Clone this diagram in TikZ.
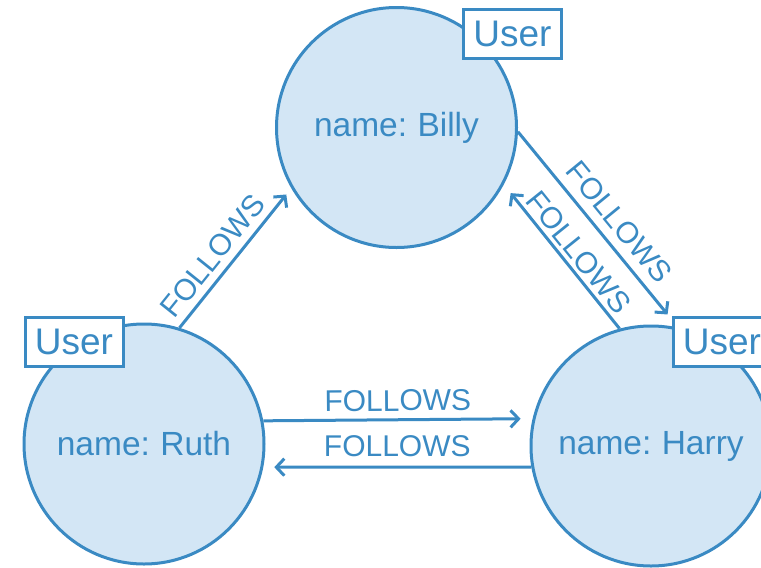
\documentclass[tikz,border=0pt]{standalone}
\usepackage{fontspec}
\setmainfont{Liberation Sans}
\usetikzlibrary{arrows.meta}
\definecolor{edgeblue}{RGB}{58,138,195}
\definecolor{nodefill}{RGB}{211,230,245}
\begin{document}
\begin{tikzpicture}[x=1pt,y=-1pt,
  person/.style={circle, draw=edgeblue, fill=nodefill, line width=3pt,
    minimum size=240pt, inner sep=0pt, text=edgeblue,
    font=\fontsize{33.5}{36}\selectfont},
  userlabel/.style={rectangle, draw=edgeblue, fill=white, line width=3pt,
    minimum width=98pt, minimum height=49pt, inner sep=0pt, text=edgeblue,
    font=\fontsize{37}{40}\selectfont},
  rel/.style={draw=edgeblue, line width=3pt,
    -{Straight Barb[length=8pt,width=17pt]}},
  rellabel/.style={text=edgeblue, font=\fontsize{30}{32}\selectfont,
    sloped, anchor=south, inner xsep=0pt, inner ysep=#1},
  rellabel/.default=7pt
]
\useasboundingbox (0,0) rectangle (761,568);

% people
\node[person] (billy) at (396.5,127.5) {name:\hspace{-2pt} Billy};
\node[person] (ruth)  at (144,444)     {name:\hspace{-2pt} Ruth};
\node[person] (harry) at (651,446)     {name:\hspace{-2pt} Harry};

% FOLLOWS relationships
\draw[rel, shorten >=8pt] (ruth.73.8) -- node[rellabel, pos=0.43] {FOLLOWS} (billy.210.4);
\draw[rel, shorten >=17pt] (billy.-2.1) -- node[rellabel=9pt, pos=0.53] {FOLLOWS} (harry.77.9);
\draw[rel, shorten >=11pt] (harry.105.8) -- node[rellabel=4pt, pos=0.46] {FOLLOWS} (billy.-28.4);
\draw[rel, shorten >=12pt] (ruth.11.5) -- node[rellabel, pos=0.5] {FOLLOWS} (harry.167.5);
\draw[rel, shorten >=11pt] (harry.190.1) -- node[rellabel=9pt, pos=0.5] {FOLLOWS} (ruth.-11);

% labels
\node[userlabel] (billylabel) at (512.5,34) {User};
\node[userlabel] (ruthlabel)  at (74,342)   {User};
\node[userlabel] (harrylabel) at (722,342)  {User};
\end{tikzpicture}
\end{document}
